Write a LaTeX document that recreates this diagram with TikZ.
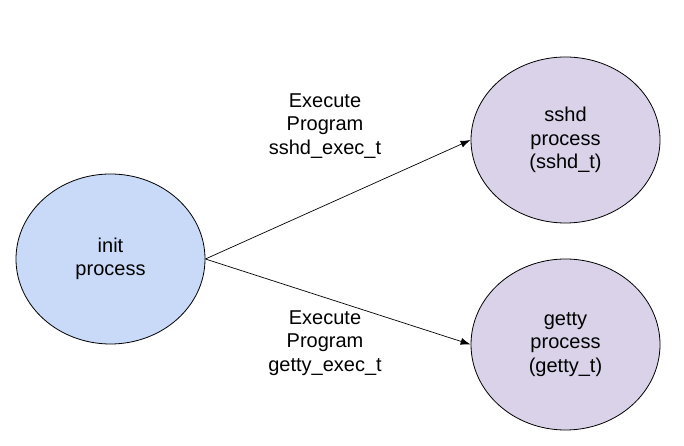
\documentclass[tikz,border=0pt]{standalone}
\usepackage{fontspec}
\setmainfont{Liberation Sans}
\usetikzlibrary{shapes.geometric, arrows.meta, positioning}
\definecolor{initblue}{HTML}{C9DAF8}
\definecolor{procpurple}{HTML}{D9D2E9}
\tikzset{
	proc/.style={ellipse, draw, line width=0.8pt, inner sep=0pt, minimum width=189pt, minimum height=168pt, align=center, font=\fontsize{20}{23.5}\selectfont}
}
\tikzset{
	trans/.style={align=center, font=\fontsize{20}{23.5}\selectfont}
}

\begin{document}
\begin{tikzpicture}[x=1pt, y=1pt, >={Latex[length=10pt,width=7pt]}]
      \useasboundingbox (0,0) rectangle (684,446);
      % processes
      \node[proc, fill=initblue, minimum height=170pt] (init) at (110.5,187) {init\\ process};
      \node[proc, fill=procpurple, minimum height=166pt] (sshd) at (565.5,306) {sshd\\ process\\ (sshd\_t)};
      \node[proc, fill=procpurple, minimum height=171pt] (getty) at (565.5,101.5) {getty\\ process\\ (getty\_t)};
      % domain transitions
      \draw[->, line width=0.7pt] (init.east) -- (sshd.west);
      \draw[->, line width=0.7pt] (init.east) -- (getty.west);
      \node[trans] (tsshd) at (325,320) {Execute\\ Program\\ sshd\_exec\_t};
      \node[trans] (tgetty) at (325,103) {Execute\\ Program\\ getty\_exec\_t};
    \end{tikzpicture}
\end{document}
